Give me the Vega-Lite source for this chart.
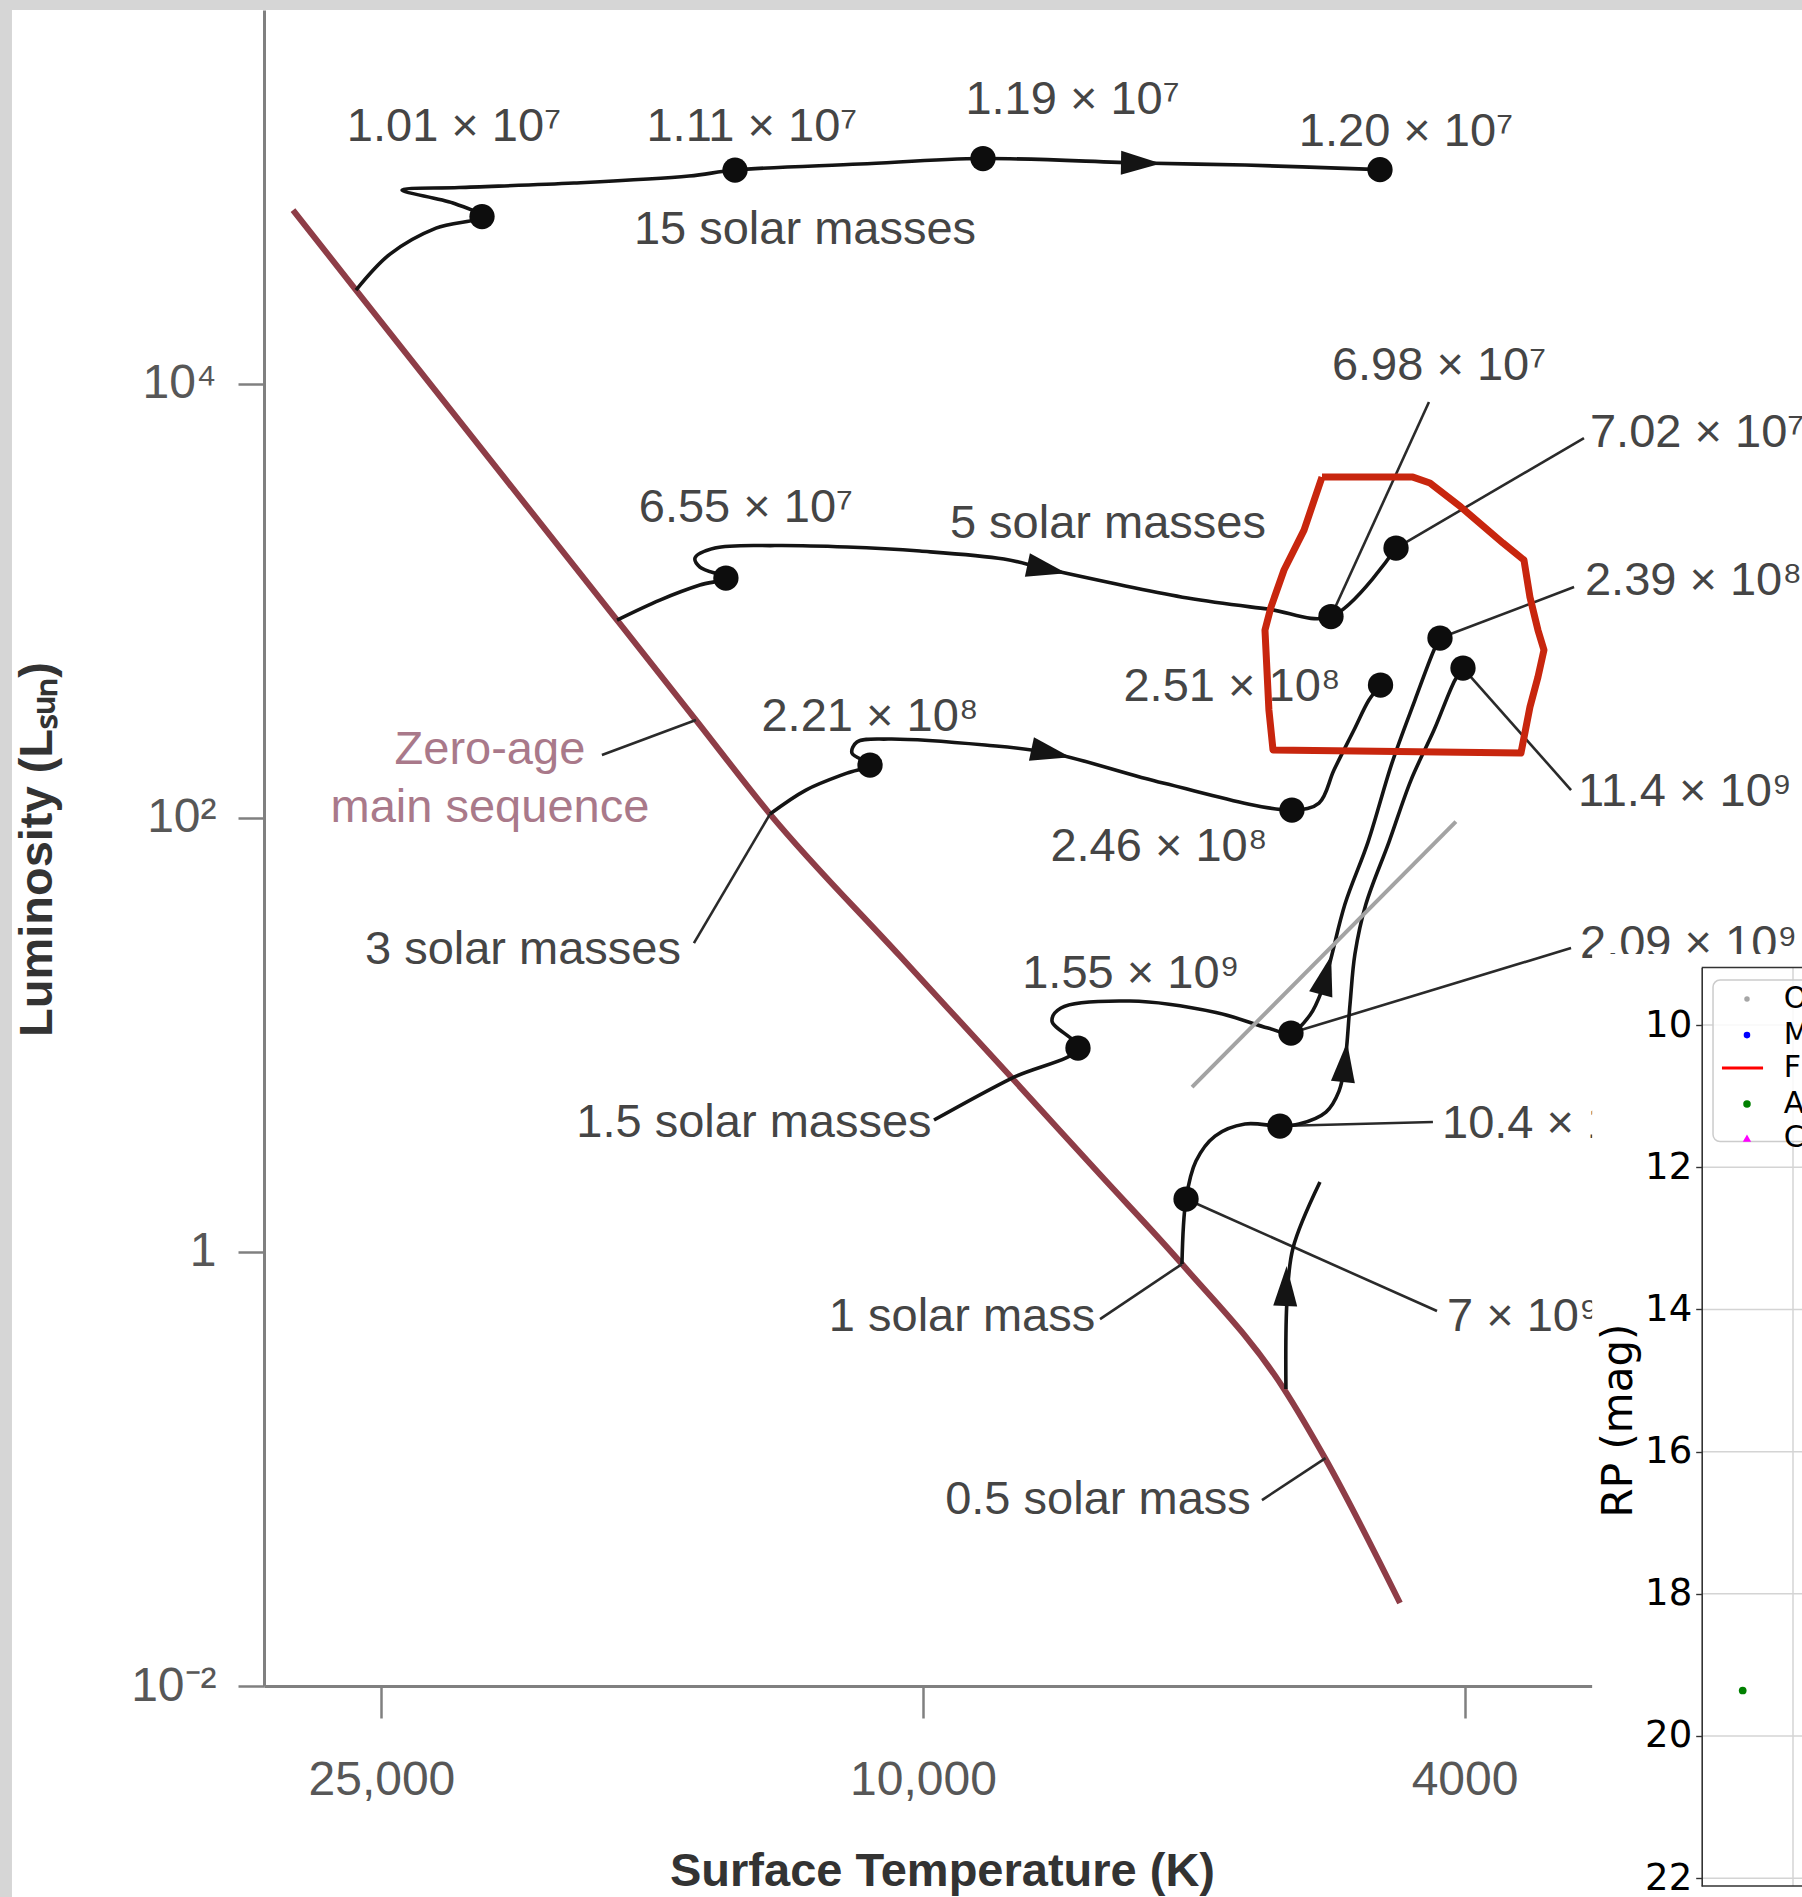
{
  "$schema": "https://vega.github.io/schema/vega-lite/v6.json",
  "width": 1538,
  "height": 1676,
  "autosize": {"type": "none"},
  "padding": {"left": 264, "top": 10, "right": 0, "bottom": 211},
  "background": "white",
  "config": {"view": {"stroke": null}},
  "datasets": {
    "strips": [
      {"lt": 4.72, "lt2": 4.6694, "ll": 5.85, "ll2": -3.1},
      {"lt": 4.72, "lt2": 3.30, "ll": 5.85, "ll2": 5.7208}
    ],
    "zams": [
      {"i": 0, "lt": 4.4629, "ll": 4.7992},
      {"i": 1, "lt": 4.4166, "ll": 4.4306},
      {"i": 2, "lt": 4.2248, "ll": 2.9105},
      {"i": 3, "lt": 4.1668, "ll": 2.4498},
      {"i": 4, "lt": 4.1124, "ll": 2.0168},
      {"i": 5, "lt": 4.0169, "ll": 1.3626},
      {"i": 6, "lt": 3.9346, "ll": 0.8006},
      {"i": 7, "lt": 3.8699, "ll": 0.3561},
      {"i": 8, "lt": 3.8097, "ll": -0.0562},
      {"i": 9, "lt": 3.7347, "ll": -0.6320},
      {"i": 10, "lt": 3.7046, "ll": -0.9499},
      {"i": 11, "lt": 3.6495, "ll": -1.6178}
    ],
    "tracks": [
      {"track": "15", "i": 0, "lt": 4.4166, "ll": 4.4306},
      {"track": "15", "i": 1, "lt": 4.3916, "ll": 4.5965},
      {"track": "15", "i": 2, "lt": 4.3578, "ll": 4.7163},
      {"track": "15", "i": 3, "lt": 4.3240, "ll": 4.7692},
      {"track": "15", "i": 4, "lt": 4.3454, "ll": 4.8314},
      {"track": "15", "i": 5, "lt": 4.3828, "ll": 4.8913},
      {"track": "15", "i": 6, "lt": 4.3409, "ll": 4.9028},
      {"track": "15", "i": 7, "lt": 4.2564, "ll": 4.9235},
      {"track": "15", "i": 8, "lt": 4.1719, "ll": 4.9558},
      {"track": "15", "i": 9, "lt": 4.1381, "ll": 4.9834},
      {"track": "15", "i": 10, "lt": 4.0463, "ll": 5.0111},
      {"track": "15", "i": 11, "lt": 3.9559, "ll": 5.0364},
      {"track": "15", "i": 12, "lt": 3.8398, "ll": 5.0157},
      {"track": "15", "i": 13, "lt": 3.7634, "ll": 5.0065},
      {"track": "15", "i": 14, "lt": 3.6642, "ll": 4.9853},
      {"track": "5", "i": 0, "lt": 4.2248, "ll": 2.9105},
      {"track": "5", "i": 1, "lt": 4.1933, "ll": 3.0026},
      {"track": "5", "i": 2, "lt": 4.1639, "ll": 3.0717},
      {"track": "5", "i": 3, "lt": 4.1448, "ll": 3.1039},
      {"track": "5", "i": 4, "lt": 4.1639, "ll": 3.1546},
      {"track": "5", "i": 5, "lt": 4.1675, "ll": 3.1961},
      {"track": "5", "i": 6, "lt": 4.1528, "ll": 3.2421},
      {"track": "5", "i": 7, "lt": 4.1088, "ll": 3.2536},
      {"track": "5", "i": 8, "lt": 4.0558, "ll": 3.2467},
      {"track": "5", "i": 9, "lt": 4.0022, "ll": 3.2283},
      {"track": "5", "i": 10, "lt": 3.9405, "ll": 3.1915},
      {"track": "5", "i": 11, "lt": 3.9089, "ll": 3.1454},
      {"track": "5", "i": 12, "lt": 3.8056, "ll": 3.0118},
      {"track": "5", "i": 13, "lt": 3.7465, "ll": 2.9611},
      {"track": "5", "i": 14, "lt": 3.7002, "ll": 2.9266},
      {"track": "5", "i": 15, "lt": 3.6524, "ll": 3.2421},
      {"track": "3", "i": 0, "lt": 4.1124, "ll": 2.0168},
      {"track": "3", "i": 1, "lt": 4.0860, "ll": 2.1273},
      {"track": "3", "i": 2, "lt": 4.0558, "ll": 2.2056},
      {"track": "3", "i": 3, "lt": 4.0389, "ll": 2.2425},
      {"track": "3", "i": 4, "lt": 4.0522, "ll": 2.2978},
      {"track": "3", "i": 5, "lt": 4.0485, "ll": 2.3484},
      {"track": "3", "i": 6, "lt": 4.0257, "ll": 2.3623},
      {"track": "3", "i": 7, "lt": 3.9544, "ll": 2.3346},
      {"track": "3", "i": 8, "lt": 3.9059, "ll": 2.2978},
      {"track": "3", "i": 9, "lt": 3.8236, "ll": 2.1596},
      {"track": "3", "i": 10, "lt": 3.7289, "ll": 2.0352},
      {"track": "3", "i": 11, "lt": 3.7090, "ll": 2.0674},
      {"track": "3", "i": 12, "lt": 3.6980, "ll": 2.2195},
      {"track": "3", "i": 13, "lt": 3.6833, "ll": 2.4037},
      {"track": "3", "i": 14, "lt": 3.6723, "ll": 2.5419},
      {"track": "3", "i": 15, "lt": 3.6638, "ll": 2.6110},
      {"track": "1.5", "i": 0, "lt": 3.9919, "ll": 0.6072},
      {"track": "1.5", "i": 1, "lt": 3.9346, "ll": 0.8006},
      {"track": "1.5", "i": 2, "lt": 3.8861, "ll": 0.9388},
      {"track": "1.5", "i": 3, "lt": 3.9052, "ll": 1.0632},
      {"track": "1.5", "i": 4, "lt": 3.8986, "ll": 1.1231},
      {"track": "1.5", "i": 5, "lt": 3.8479, "ll": 1.1553},
      {"track": "1.5", "i": 6, "lt": 3.7847, "ll": 1.1024},
      {"track": "1.5", "i": 7, "lt": 3.7465, "ll": 1.0310},
      {"track": "1.5", "i": 8, "lt": 3.7296, "ll": 1.0079},
      {"track": "1.5", "i": 9, "lt": 3.7156, "ll": 1.0908},
      {"track": "1.5", "i": 10, "lt": 3.7068, "ll": 1.2060},
      {"track": "1.5", "i": 11, "lt": 3.7009, "ll": 1.3350},
      {"track": "1.5", "i": 12, "lt": 3.6899, "ll": 1.6022},
      {"track": "1.5", "i": 13, "lt": 3.6730, "ll": 1.8878},
      {"track": "1.5", "i": 14, "lt": 3.6554, "ll": 2.2517},
      {"track": "1.5", "i": 15, "lt": 3.6385, "ll": 2.5419},
      {"track": "1.5", "i": 16, "lt": 3.6245, "ll": 2.7723},
      {"track": "1.5", "i": 17, "lt": 3.6201, "ll": 2.8275},
      {"track": "1", "i": 0, "lt": 3.8097, "ll": -0.0562},
      {"track": "1", "i": 1, "lt": 3.8067, "ll": 0.2432},
      {"track": "1", "i": 2, "lt": 3.7994, "ll": 0.4183},
      {"track": "1", "i": 3, "lt": 3.7854, "ll": 0.5334},
      {"track": "1", "i": 4, "lt": 3.7634, "ll": 0.5887},
      {"track": "1", "i": 5, "lt": 3.7377, "ll": 0.5795},
      {"track": "1", "i": 6, "lt": 3.7237, "ll": 0.5887},
      {"track": "1", "i": 7, "lt": 3.7039, "ll": 0.6440},
      {"track": "1", "i": 8, "lt": 3.6943, "ll": 0.7407},
      {"track": "1", "i": 9, "lt": 3.6899, "ll": 0.8743},
      {"track": "1", "i": 10, "lt": 3.6862, "ll": 1.1415},
      {"track": "1", "i": 11, "lt": 3.6826, "ll": 1.3719},
      {"track": "1", "i": 12, "lt": 3.6745, "ll": 1.6022},
      {"track": "1", "i": 13, "lt": 3.6576, "ll": 1.8878},
      {"track": "1", "i": 14, "lt": 3.6414, "ll": 2.1734},
      {"track": "1", "i": 15, "lt": 3.6245, "ll": 2.4037},
      {"track": "1", "i": 16, "lt": 3.6091, "ll": 2.6341},
      {"track": "1", "i": 17, "lt": 3.6032, "ll": 2.6893},
      {"track": "0.5", "i": 0, "lt": 3.7333, "ll": -0.6320},
      {"track": "0.5", "i": 1, "lt": 3.7325, "ll": -0.2220},
      {"track": "0.5", "i": 2, "lt": 3.7281, "ll": 0.0175},
      {"track": "0.5", "i": 3, "lt": 3.7083, "ll": 0.3215}
    ],
    "leaders": [
      {"id": "6.98", "i": 0, "lt": 3.7002, "ll": 2.9266},
      {"id": "6.98", "i": 1, "lt": 3.6282, "ll": 3.9147},
      {"id": "7.02", "i": 0, "lt": 3.6524, "ll": 3.2421},
      {"id": "7.02", "i": 1, "lt": 3.5143, "ll": 3.7489},
      {"id": "2.39", "i": 0, "lt": 3.6201, "ll": 2.8275},
      {"id": "2.39", "i": 1, "lt": 3.5216, "ll": 3.0625},
      {"id": "11.4", "i": 0, "lt": 3.6032, "ll": 2.6893},
      {"id": "11.4", "i": 1, "lt": 3.5238, "ll": 2.1273},
      {"id": "2.09", "i": 0, "lt": 3.7296, "ll": 1.0079},
      {"id": "2.09", "i": 1, "lt": 3.5238, "ll": 1.3995},
      {"id": "10.4", "i": 0, "lt": 3.7377, "ll": 0.5795},
      {"id": "10.4", "i": 1, "lt": 3.6253, "ll": 0.5979},
      {"id": "7", "i": 0, "lt": 3.8067, "ll": 0.2432},
      {"id": "7", "i": 1, "lt": 3.6223, "ll": -0.2727},
      {"id": "1sm", "i": 0, "lt": 3.8699, "ll": -0.3096},
      {"id": "1sm", "i": 1, "lt": 3.8097, "ll": -0.0562},
      {"id": "0.5sm", "i": 0, "lt": 3.7509, "ll": -1.1434},
      {"id": "0.5sm", "i": 1, "lt": 3.7042, "ll": -0.9502},
      {"id": "3sm", "i": 0, "lt": 4.1683, "ll": 1.4225},
      {"id": "3sm", "i": 1, "lt": 4.1124, "ll": 2.0168},
      {"id": "zams", "i": 0, "lt": 4.2359, "ll": 2.2886},
      {"id": "zams", "i": 1, "lt": 4.1668, "ll": 2.4498}
    ],
    "dots": [
      {"lt": 4.3240, "ll": 4.7692},
      {"lt": 4.1381, "ll": 4.9834},
      {"lt": 3.9559, "ll": 5.0364},
      {"lt": 3.6642, "ll": 4.9853},
      {"lt": 4.1448, "ll": 3.1039},
      {"lt": 3.7002, "ll": 2.9266},
      {"lt": 3.6524, "ll": 3.2421},
      {"lt": 4.0389, "ll": 2.2425},
      {"lt": 3.7289, "ll": 2.0352},
      {"lt": 3.6638, "ll": 2.6110},
      {"lt": 3.8861, "ll": 0.9388},
      {"lt": 3.7296, "ll": 1.0079},
      {"lt": 3.6201, "ll": 2.8275},
      {"lt": 3.8067, "ll": 0.2432},
      {"lt": 3.7377, "ll": 0.5795},
      {"lt": 3.6032, "ll": 2.6893}
    ],
    "arrows": [
      {"lt": 3.8398, "ll": 5.0157, "heading": 91},
      {"lt": 3.9089, "ll": 3.1454, "heading": 102},
      {"lt": 3.9059, "ll": 2.2978, "heading": 102},
      {"lt": 3.7039, "ll": 1.2751, "heading": 15},
      {"lt": 3.6899, "ll": 0.8743, "heading": 6},
      {"lt": 3.7333, "ll": -0.1575, "heading": 2}
    ],
    "circled": [
      {"i": 0, "lt": 3.7068, "ll": 3.569},
      {"i": 1, "lt": 3.6400, "ll": 3.569},
      {"i": 2, "lt": 3.6275, "ll": 3.542},
      {"i": 3, "lt": 3.6047, "ll": 3.431},
      {"i": 4, "lt": 3.5738, "ll": 3.265},
      {"i": 5, "lt": 3.5584, "ll": 3.187},
      {"i": 6, "lt": 3.5540, "ll": 3.016},
      {"i": 7, "lt": 3.5481, "ll": 2.864},
      {"i": 8, "lt": 3.5437, "ll": 2.772},
      {"i": 9, "lt": 3.5481, "ll": 2.648},
      {"i": 10, "lt": 3.5540, "ll": 2.510},
      {"i": 11, "lt": 3.5606, "ll": 2.298},
      {"i": 12, "lt": 3.7428, "ll": 2.312},
      {"i": 13, "lt": 3.7458, "ll": 2.496},
      {"i": 14, "lt": 3.7487, "ll": 2.864},
      {"i": 15, "lt": 3.7443, "ll": 2.970},
      {"i": 16, "lt": 3.7347, "ll": 3.141},
      {"i": 17, "lt": 3.7200, "ll": 3.325},
      {"i": 18, "lt": 3.7068, "ll": 3.569}
    ],
    "grayline": [
      {"i": 0, "lt": 3.8023, "ll": 0.7592},
      {"i": 1, "lt": 3.6084, "ll": 1.9822}
    ],
    "labels": [
      {"txt": "1.01 × 10⁷", "lt": 4.3446, "ll": 5.1815, "anchor": "c", "kind": "time"},
      {"txt": "1.11 × 10⁷", "lt": 4.1257, "ll": 5.1815, "anchor": "c", "kind": "time"},
      {"txt": "1.19 × 10⁷", "lt": 3.8901, "ll": 5.3059, "anchor": "c", "kind": "time"},
      {"txt": "1.20 × 10⁷", "lt": 3.6451, "ll": 5.1585, "anchor": "c", "kind": "time"},
      {"txt": "6.55 × 10⁷", "lt": 4.1301, "ll": 3.4264, "anchor": "c", "kind": "time"},
      {"txt": "6.98 × 10⁷", "lt": 3.6208, "ll": 4.0805, "anchor": "c", "kind": "time"},
      {"txt": "7.02 × 10⁷", "lt": 3.5099, "ll": 3.7719, "anchor": "l", "kind": "time"},
      {"txt": "2.39 × 10⁸", "lt": 3.5136, "ll": 3.0901, "anchor": "l", "kind": "time"},
      {"txt": "2.51 × 10⁸", "lt": 3.7729, "ll": 2.6018, "anchor": "c", "kind": "time"},
      {"txt": "2.21 × 10⁸", "lt": 4.0389, "ll": 2.4636, "anchor": "c", "kind": "time"},
      {"txt": "2.46 × 10⁸", "lt": 3.8266, "ll": 1.8648, "anchor": "c", "kind": "time"},
      {"txt": "11.4 × 10⁹", "lt": 3.5187, "ll": 2.1181, "anchor": "l", "kind": "time"},
      {"txt": "2.09 × 10⁹", "lt": 3.5172, "ll": 1.4160, "anchor": "l", "kind": "time"},
      {"txt": "1.55 × 10⁹", "lt": 3.8472, "ll": 1.2797, "anchor": "c", "kind": "time"},
      {"txt": "10.4 × 10⁹", "lt": 3.6186, "ll": 0.5887, "anchor": "l", "kind": "time"},
      {"txt": "7 × 10⁹", "lt": 3.6150, "ll": -0.3004, "anchor": "l", "kind": "time"},
      {"txt": "15 solar masses", "lt": 4.0867, "ll": 4.7070, "anchor": "c", "kind": "mass"},
      {"txt": "5 solar masses", "lt": 3.8641, "ll": 3.3527, "anchor": "c", "kind": "mass"},
      {"txt": "3 solar masses", "lt": 4.2939, "ll": 1.3903, "anchor": "c", "kind": "mass"},
      {"txt": "1.5 solar masses", "lt": 4.1242, "ll": 0.5933, "anchor": "c", "kind": "mass"},
      {"txt": "1 solar mass", "lt": 3.9713, "ll": -0.3004, "anchor": "c", "kind": "mass"},
      {"txt": "0.5 solar mass", "lt": 3.8714, "ll": -1.1434, "anchor": "c", "kind": "mass"},
      {"txt": "Zero-age", "lt": 4.3182, "ll": 2.3116, "anchor": "c", "kind": "zams"},
      {"txt": "main sequence", "lt": 4.3182, "ll": 2.0444, "anchor": "c", "kind": "zams"}
    ],
    "inset_bg": [{"bx": -0.6, "bx2": 1.4, "rp": 9.0, "rp2": 23.5}],
    "inset_hgrid": [
      {"bx": 0, "bx2": 1.4, "rp": 10},
      {"bx": 0, "bx2": 1.4, "rp": 12},
      {"bx": 0, "bx2": 1.4, "rp": 14},
      {"bx": 0, "bx2": 1.4, "rp": 16},
      {"bx": 0, "bx2": 1.4, "rp": 18},
      {"bx": 0, "bx2": 1.4, "rp": 20},
      {"bx": 0, "bx2": 1.4, "rp": 22}
    ],
    "inset_vgrid": [{"bx": 0.5, "rp": 9.19, "rp2": 22.11}],
    "inset_frame": [
      {"bx": 0, "bx2": 1.4, "rp": 9.19},
      {"bx": 0, "bx2": 1.4, "rp": 22.11}
    ],
    "stars": [{"bx": 0.2245, "rp": 19.36}],
    "legend_box": [{"bx": 0.062, "bx2": 1.4, "rp": 9.367, "rp2": 11.639}],
    "legend_marks": [
      {"entry": "O", "bx": 0.248, "rp": 9.634},
      {"entry": "M", "bx": 0.248, "rp": 10.141},
      {"entry": "A", "bx": 0.248, "rp": 11.111},
      {"entry": "C", "bx": 0.248, "rp": 11.590}
    ],
    "legend_line": [{"bx": 0.111, "bx2": 0.336, "rp": 10.605}],
    "legend_text": [
      {"label": "O", "bx": 0.45, "rp": 9.634},
      {"label": "M", "bx": 0.45, "rp": 10.141},
      {"label": "F", "bx": 0.45, "rp": 10.605},
      {"label": "A", "bx": 0.45, "rp": 11.111},
      {"label": "C", "bx": 0.45, "rp": 11.590}
    ]
  },
  "layer": [
    {
      "encoding": {
        "x": {
          "field": "lt", "type": "quantitative",
          "scale": {"domain": [4.4842, 3.3541], "nice": false, "zero": false},
          "axis": {
            "values": [4.39794, 4, 3.60206],
            "labelExpr": "datum.value > 4.3 ? '25,000' : datum.value > 3.9 ? '10,000' : '4000'",
            "grid": false, "zindex": 0,
            "domainColor": "#808080", "domainWidth": 3,
            "tickColor": "#808080", "tickWidth": 2.5, "tickSize": 32,
            "labelFont": "Liberation Sans, Arial, sans-serif", "labelFontSize": 48, "labelColor": "#575757",
            "labelPadding": 38, "labelFlush": false, "labelOverlap": false,
            "title": "Surface Temperature (K)",
            "titleFont": "Liberation Sans, Arial, sans-serif", "titleFontSize": 47, "titleFontWeight": "bold",
            "titleColor": "#333333", "titleX": 678, "titleY": 199, "titleAlign": "center", "titleBaseline": "alphabetic"
          }
        },
        "y": {
          "field": "ll", "type": "quantitative",
          "scale": {"domain": [-2, 5.7208], "nice": false, "zero": false},
          "axis": {
            "values": [-2, 0, 2, 4],
            "labelExpr": "datum.value == 4 ? '10⁴' : datum.value == 2 ? '10²' : datum.value == 0 ? '1' : '10⁻²'",
            "grid": false, "zindex": 0, "orient": "left",
            "domainColor": "#808080", "domainWidth": 3,
            "tickColor": "#808080", "tickWidth": 2.5, "tickSize": 26,
            "labelFont": "Liberation Sans, Arial, sans-serif", "labelFontSize": 48, "labelColor": "#575757",
            "labelPadding": 22, "labelFlush": false, "labelOverlap": false,
            "title": "Luminosity (Lₛᵤₙ)",
            "titleFont": "Liberation Sans, Arial, sans-serif", "titleFontSize": 47, "titleFontWeight": "bold",
            "titleColor": "#333333", "titleAngle": 270, "titleX": -213, "titleY": 839,
            "titleAlign": "center", "titleBaseline": "alphabetic"
          }
        }
      },
      "layer": [
        {
          "data": {"name": "strips"},
          "mark": {"type": "rect", "color": "#d6d6d6"},
          "encoding": {"x2": {"field": "lt2"}, "y2": {"field": "ll2"}}
        },
        {
          "data": {"name": "zams"},
          "mark": {"type": "line", "color": "#8e3d47", "strokeWidth": 6, "interpolate": "monotone"},
          "encoding": {"order": {"field": "i", "type": "quantitative"}}
        },
        {
          "data": {"name": "leaders"},
          "mark": {"type": "line", "color": "#2a2a2a", "strokeWidth": 2.6},
          "encoding": {"detail": {"field": "id"}, "order": {"field": "i", "type": "quantitative"}}
        },
        {
          "data": {"name": "tracks"},
          "mark": {"type": "line", "color": "#141414", "strokeWidth": 3.6, "interpolate": "catmull-rom"},
          "encoding": {"detail": {"field": "track"}, "order": {"field": "i", "type": "quantitative"}}
        },
        {
          "data": {"name": "arrows"},
          "mark": {"type": "point", "filled": true, "color": "#141414", "opacity": 1, "size": 1600, "shape": "M0,-1L0.6,1L-0.6,1Z"},
          "encoding": {"angle": {"field": "heading", "type": "quantitative", "scale": null}}
        },
        {
          "data": {"name": "dots"},
          "mark": {"type": "circle", "color": "#0d0d0d", "opacity": 1, "size": 640}
        },
        {
          "data": {"name": "grayline"},
          "mark": {"type": "line", "color": "#a3a3a3", "strokeWidth": 4},
          "encoding": {"order": {"field": "i", "type": "quantitative"}}
        },
        {
          "data": {"name": "circled"},
          "mark": {"type": "line", "color": "#c8260e", "strokeWidth": 7, "strokeJoin": "round"},
          "encoding": {"order": {"field": "i", "type": "quantitative"}}
        },
        {
          "data": {"name": "labels"},
          "transform": [{"filter": "datum.anchor == 'c'"}],
          "mark": {"type": "text", "align": "center", "baseline": "middle", "font": "Liberation Sans, Arial, sans-serif", "fontSize": 47},
          "encoding": {
            "text": {"field": "txt"},
            "color": {"field": "kind", "type": "nominal", "scale": {"domain": ["time", "mass", "zams"], "range": ["#454545", "#454545", "#a9798a"]}, "legend": null}
          }
        },
        {
          "data": {"name": "labels"},
          "transform": [{"filter": "datum.anchor == 'l'"}],
          "mark": {"type": "text", "align": "left", "baseline": "middle", "font": "Liberation Sans, Arial, sans-serif", "fontSize": 47},
          "encoding": {
            "text": {"field": "txt"},
            "color": {"field": "kind", "type": "nominal", "scale": {"domain": ["time", "mass", "zams"], "range": ["#454545", "#454545", "#a9798a"]}, "legend": null}
          }
        }
      ]
    },
    {
      "encoding": {
        "x": {
          "field": "bx", "type": "quantitative",
          "scale": {"domain": [0, 1], "range": [1437.7, 1620.3], "nice": false, "zero": false},
          "axis": null
        },
        "y": {
          "field": "rp", "type": "quantitative",
          "scale": {"domain": [9.19, 22.11], "range": [957.5, 1876], "nice": false, "zero": false},
          "axis": {
            "orient": "left", "offset": -1437.7, "zindex": 1,
            "values": [10, 12, 14, 16, 18, 20, 22],
            "grid": false,
            "domainColor": "#333333", "domainWidth": 1.6,
            "tickColor": "#333333", "tickWidth": 1.4, "tickSize": 6,
            "labelFont": "DejaVu Sans", "labelFontSize": 37, "labelColor": "#000000",
            "labelPadding": 4, "labelFlush": false, "labelOverlap": false,
            "title": "RP (mag)",
            "titleFont": "DejaVu Sans", "titleFontSize": 42, "titleFontWeight": "normal",
            "titleColor": "#000000", "titleAngle": 270, "titleX": -70, "titleY": 1410,
            "titleAlign": "center", "titleBaseline": "alphabetic"
          }
        }
      },
      "layer": [
        {
          "data": {"name": "inset_bg"},
          "mark": {"type": "rect", "color": "#ffffff"},
          "encoding": {"x2": {"field": "bx2"}, "y2": {"field": "rp2"}}
        },
        {
          "data": {"name": "inset_hgrid"},
          "mark": {"type": "rule", "color": "#d4d4d4", "strokeWidth": 1.5},
          "encoding": {"x2": {"field": "bx2"}}
        },
        {
          "data": {"name": "inset_vgrid"},
          "mark": {"type": "rule", "color": "#d4d4d4", "strokeWidth": 1.5},
          "encoding": {"y2": {"field": "rp2"}}
        },
        {
          "data": {"name": "inset_frame"},
          "mark": {"type": "rule", "color": "#333333", "strokeWidth": 1.6},
          "encoding": {"x2": {"field": "bx2"}}
        },
        {
          "data": {"name": "stars"},
          "mark": {"type": "circle", "color": "#008000", "opacity": 1, "size": 60}
        },
        {
          "data": {"name": "legend_box"},
          "mark": {"type": "rect", "fill": "#ffffff", "fillOpacity": 0.85, "stroke": "#cccccc", "strokeWidth": 1.5, "cornerRadius": 7},
          "encoding": {"x2": {"field": "bx2"}, "y2": {"field": "rp2"}}
        },
        {
          "data": {"name": "legend_marks"},
          "mark": {"type": "point", "filled": true, "opacity": 1},
          "encoding": {
            "color": {"field": "entry", "type": "nominal", "scale": {"domain": ["O", "M", "A", "C"], "range": ["#a6a6a6", "#0000ff", "#008000", "#ff00ff"]}, "legend": null},
            "shape": {"field": "entry", "type": "nominal", "scale": {"domain": ["O", "M", "A", "C"], "range": ["circle", "circle", "circle", "triangle-up"]}, "legend": null},
            "size": {"field": "entry", "type": "nominal", "scale": {"domain": ["O", "M", "A", "C"], "range": [30, 70, 70, 70]}, "legend": null}
          }
        },
        {
          "data": {"name": "legend_line"},
          "mark": {"type": "rule", "color": "#ff0000", "strokeWidth": 3},
          "encoding": {"x2": {"field": "bx2"}}
        },
        {
          "data": {"name": "legend_text"},
          "mark": {"type": "text", "align": "left", "baseline": "middle", "font": "DejaVu Sans", "fontSize": 30, "color": "#000000"},
          "encoding": {"text": {"field": "label"}}
        }
      ]
    }
  ],
  "resolve": {
    "scale": {"x": "independent", "y": "independent", "color": "independent", "shape": "independent", "size": "independent"},
    "axis": {"x": "independent", "y": "independent"}
  }
}
